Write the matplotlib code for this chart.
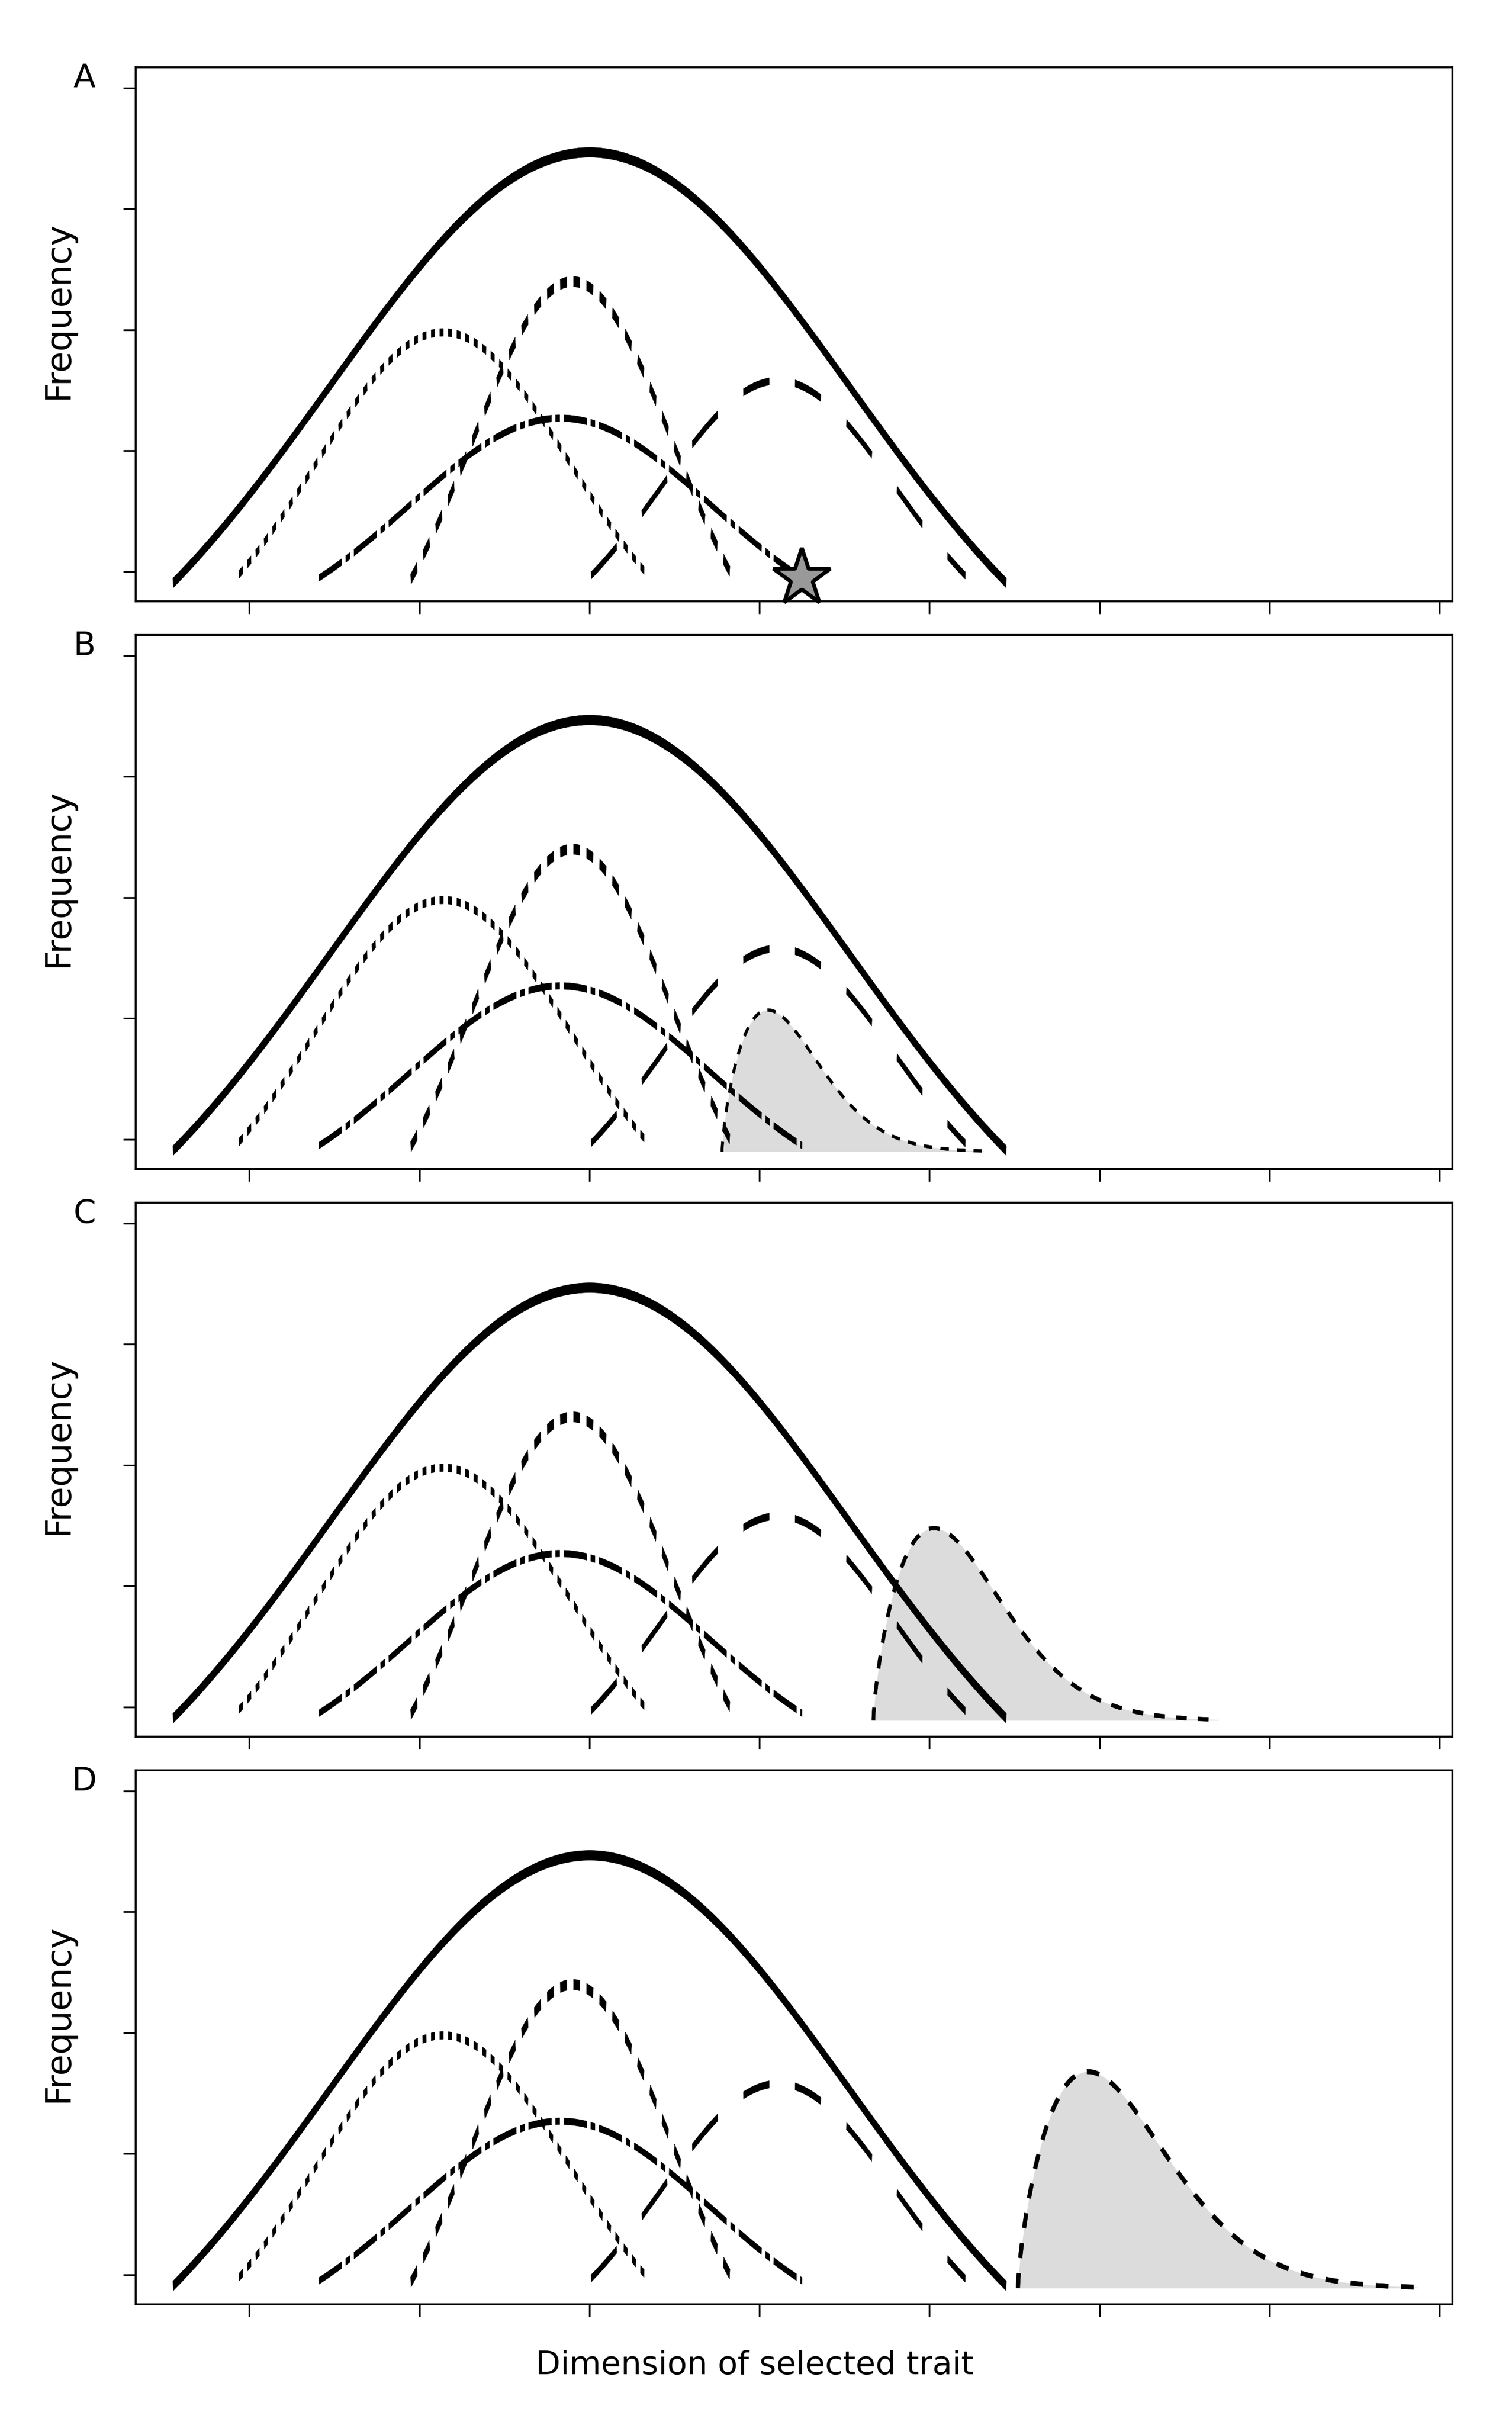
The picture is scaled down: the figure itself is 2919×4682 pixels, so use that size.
import numpy as np
import matplotlib.pyplot as plt
from matplotlib.collections import PolyCollection

W, H = 2919, 4682
DPI = 300

# five normal-shaped components, identical in every panel
comp_mu = [0.0, -0.86, -0.10, -0.17, 1.11]
comp_halfwidth = [2.45, 1.20, 0.95, 1.42, 1.10]
comp_peak = [3.47, 1.98, 2.40, 1.27, 1.58]
comp_end = [-0.09, -0.02, -0.06, -0.05, -0.03]
COMP_K = 1.6  # curves are cut at +-1.6 sd

# shifted, right-skewed distribution in panels B-D
shift_onset = [0.78, 1.67, 2.52]
shift_mode_offset = [0.27, 0.356, 0.412]
shift_height = [1.17, 1.59, 1.79]
shift_base = [-0.10, -0.11, -0.11]
SHIFT_TAIL = 5.7  # tail length in units of the mode offset

# star in panel A
star_x = 1.25
star_y = -0.05

panels = ['A', 'B', 'C', 'D']
x_ticks = [-2, -1, 0, 1, 2, 3, 4, 5]
y_ticks = [0, 1, 2, 3, 4]

# styles (pixel sizes at full resolution). The original figure was drawn flat
# and stretched vertically, so strokes are drawn with a squashed pen.
comp_thick = [19, 15, 20, 13, 14]
comp_dash = [None, [7, 9.5], [12.5, 12.9], [44, 8, 8, 8], [50, 50]]
COMP_STRETCH = 6.0
shift_thick = 9.0       # for panel D, the others are scaled by the mode offset
shift_dash = [0.176, 0.185]  # in mode-offset units
SHIFT_STRETCH = 1.2
FILL = '#dcdcdc'

left_px, right_px = 262, 2804
tops = [130, 1226, 2322, 3418]
box_h = 1031
XLIM = (-2.668, 5.075)
YLIM = (-0.244, 4.171)
px_x = (right_px - left_px) / (XLIM[1] - XLIM[0])
px_y = box_h / (YLIM[1] - YLIM[0])


def comp_curve(mu, hw, peak, end):
    x = np.linspace(mu - hw, mu + hw, 2500)
    u = (x - mu) / hw
    floor = np.exp(-COMP_K ** 2 / 2)
    g = (np.exp(-(COMP_K * u) ** 2 / 2) - floor) / (1 - floor)
    return x, end + (peak - end) * g


def shift_curve(x0, tp, h, base, a=0.7, p=1.6):
    u = SHIFT_TAIL * np.linspace(0, 1, 4000) ** 2
    g = u ** a * np.exp(a / p * (1 - u ** p))
    return x0 + u * tp, base + h * g


def stroke(ax, x, y, thick, stretch, dash, z):
    # pen of vertical thickness `thick` px on flat parts, dashes measured
    # along the curve in the un-stretched space
    X = x * px_x
    Y = y * px_y / stretch
    d = np.r_[0, np.cumsum(np.hypot(np.diff(X), np.diff(Y)))]
    tx, ty = np.gradient(X), np.gradient(Y)
    nrm = np.hypot(tx, ty)
    tx, ty = tx / nrm, ty / nrm
    total = d[-1]
    if dash is None:
        spans = [(0, total)]
    else:
        spans = []
        pos = 0.0
        while pos < total:
            for on, off in zip(dash[::2], dash[1::2]):
                spans.append((pos, min(pos + on, total)))
                pos += on + off
    half = thick / stretch / 2
    verts = []
    for a, b in spans:
        if b - a <= 0.2:
            continue
        dd = np.linspace(a, b, max(4, int((b - a) / 0.5) + 2))
        xs, ys = np.interp(dd, d, X), np.interp(dd, d, Y)
        ux, uy = np.interp(dd, d, tx), np.interp(dd, d, ty)
        n = np.hypot(ux, uy)
        nx, ny = -uy / n, ux / n
        lx, ly = xs + nx * half, ys + ny * half
        rx, ry = xs - nx * half, ys - ny * half
        px = np.r_[lx, rx[::-1]] / px_x
        py = np.r_[ly, ry[::-1]] * stretch / px_y
        verts.append(np.column_stack([px, py]))
    ax.add_collection(PolyCollection(verts, facecolor='black', edgecolor='black',
                                     linewidth=0.15, zorder=z))


fig = plt.figure(figsize=(W / DPI, H / DPI), dpi=DPI)

for i, name in enumerate(panels):
    top = tops[i]
    ax = fig.add_axes([left_px / W, 1 - (top + box_h) / H,
                       (right_px - left_px) / W, box_h / H])
    ax.set_xlim(*XLIM)
    ax.set_ylim(*YLIM)
    ax.set_xticks(x_ticks)
    ax.set_yticks(y_ticks)
    ax.tick_params(direction='out', length=5.7, width=0.8,
                   labelbottom=False, labelleft=False)
    for s in ax.spines.values():
        s.set_linewidth(0.9)

    if i > 0:
        j = i - 1
        sx, sy = shift_curve(shift_onset[j], shift_mode_offset[j],
                             shift_height[j], shift_base[j])
        ax.fill_between(sx, shift_base[j], sy, color=FILL, lw=0, zorder=1)
        scale = shift_mode_offset[j] * px_x
        stroke(ax, sx, sy, shift_thick * shift_mode_offset[j] / shift_mode_offset[-1],
               SHIFT_STRETCH, [v * scale for v in shift_dash], 3)

    for k in range(len(comp_mu)):
        cx, cy = comp_curve(comp_mu[k], comp_halfwidth[k], comp_peak[k], comp_end[k])
        stroke(ax, cx, cy, comp_thick[k], COMP_STRETCH, comp_dash[k], 2)

    if i == 0:
        ax.plot(star_x, star_y, marker='*', ms=28, mfc='#999999', mec='black',
                mew=1.8, clip_on=False, zorder=4)

    fig.text(163 / W, 1 - (top + 22) / H, name, ha='center', va='center', fontsize=15)
    fig.text(113 / W, 1 - (top + 469) / H, 'Frequency', rotation=90,
             ha='center', va='center', fontsize=16)

fig.text(1457 / W, 1 - 4567 / H, 'Dimension of selected trait',
         ha='center', va='center', fontsize=15)

fig.savefig('out.png', dpi=DPI)
